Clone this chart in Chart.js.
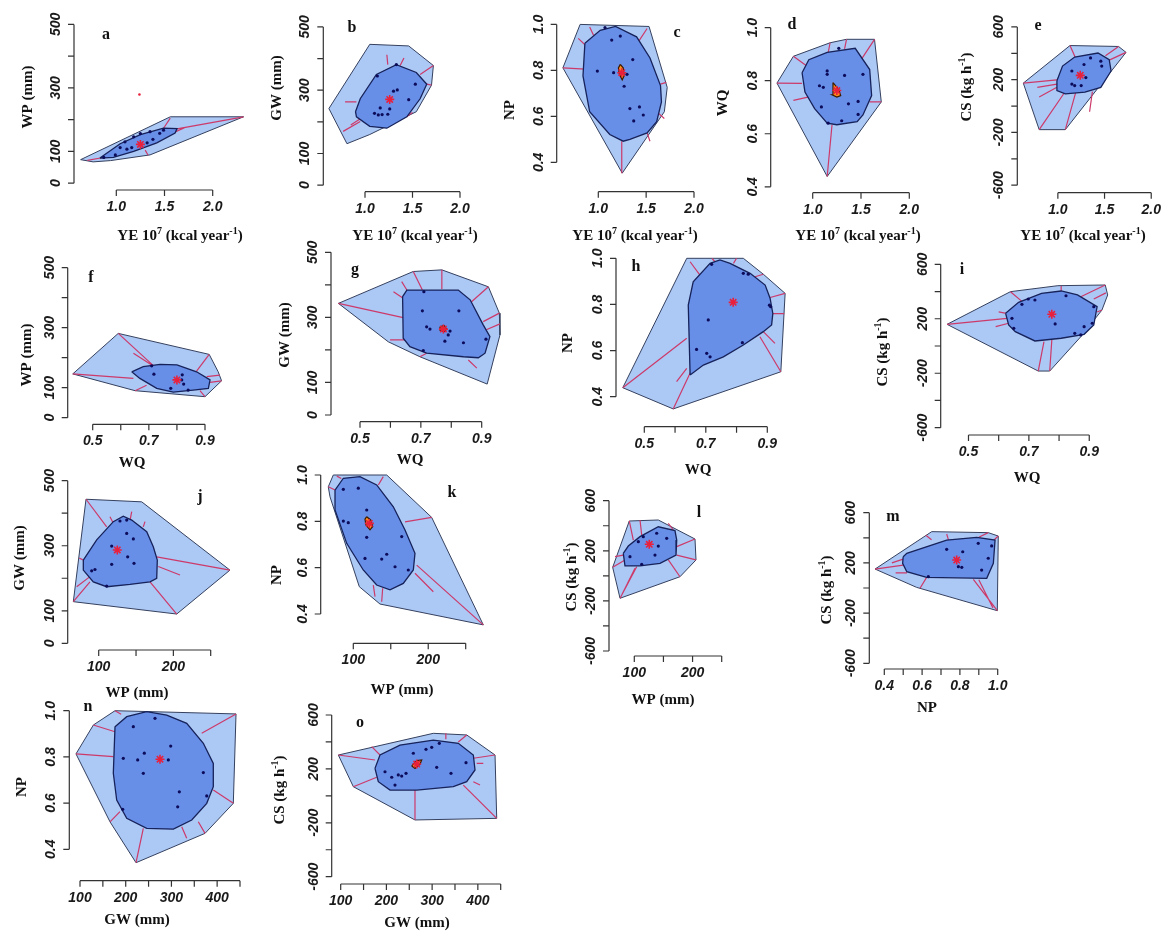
<!DOCTYPE html>
<html>
<head>
<meta charset="utf-8">
<script src="https://cdn.jsdelivr.net/npm/chart.js@4.4.1/dist/chart.umd.min.js"></script>
<style>
  body { margin: 0; background: #fff; width: 1169px; height: 937px; position: relative; overflow: hidden; }
  canvas { position: absolute; left: 0; top: 0; }
</style>
</head>
<body>
<script>
// ---- tick values / labels ----
const ticksYE = [1.0, 1.5, 2.0];
const labelsYE = ['1.0', '1.5', '2.0'];
const ticksWQx = [0.5, 0.6, 0.7, 0.8, 0.9];
const labelsWQx = ['0.5', '', '0.7', '', '0.9'];
const ticksWPx = [100, 150, 200, 250];
const labelsWPx = ['100', '', '200', ''];
const ticksNPx = [0.4, 0.5, 0.6, 0.7, 0.8, 0.9, 1.0];
const labelsNPx = ['0.4', '', '0.6', '', '0.8', '', '1.0'];
const ticksGWx = [100, 150, 200, 250, 300, 350, 400, 450];
const labelsGWx = ['100', '', '200', '', '300', '', '400', ''];
const ticksMMy = [0, 100, 200, 300, 400, 500];
const labelsMMy = ['0', '100', '', '300', '', '500'];
const ticksFracY = [0.4, 0.6, 0.8, 1.0];
const labelsFracY = ['0.4', '0.6', '0.8', '1.0'];
const ticksCSy = [-600, -400, -200, 0, 200, 400, 600];
const labelsCSy = ['-600', '', '-200', '', '200', '', '600'];

// ---- a: YE vs WP ----
const aLoop = [[0.63,74],[1.56,209],[2.32,209],[1.35,89],[0.94,71],[0.76,67]];
const aBag = [[0.83,79],[1.04,124],[1.25,153],[1.49,173],[1.63,172],[1.61,158],[1.42,127],[1.18,100],[0.97,81]];
const aPts = [[0.87,81],[0.99,89],[1.11,107],[1.16,112],[1.09,130],[1.18,146],[1.25,156],[1.35,162],[1.45,157],[1.49,167],[1.38,138],[1.32,127],[1.04,112]];
const aWhisk = [[1.63,171,2.32,209],[1.49,173,1.56,205],[1.30,104,1.33,88],[0.85,80,0.70,72],[1.60,160,1.72,176]];
const aMed = [1.25,122];
const aOut = [[1.24,279]];

// ---- b: YE vs GW ----
const bLoop = [[0.62,242],[1.05,445],[1.46,440],[1.72,378],[1.70,316],[1.54,232],[1.05,160],[0.81,131]];
const bBag = [[0.90,232],[0.95,273],[1.12,350],[1.33,381],[1.54,356],[1.65,319],[1.58,273],[1.44,216],[1.23,180],[1.05,186],[0.91,216]];
const bPts = [[1.13,345],[1.30,297],[1.34,301],[1.53,319],[1.46,270],[1.26,241],[1.16,244],[1.10,227],[1.14,222],[1.18,223],[1.24,224],[1.33,381]];
const bWhisk = [[1.23,412,1.24,381],[1.41,402,1.37,378],[1.72,378,1.58,350],[1.70,316,1.65,319],[1.50,230,1.44,216],[0.77,170,0.95,201],[0.79,263,0.91,263],[0.85,190,0.98,215]];
const bMed = [1.26,271];

// ---- c: YE vs NP ----
const cLoop = [[0.63,0.811],[0.81,1.0],[1.53,0.991],[1.72,0.726],[1.69,0.62],[1.25,0.353]];
const cBag = [[0.86,0.918],[1.02,0.974],[1.18,0.991],[1.40,0.946],[1.54,0.854],[1.65,0.734],[1.66,0.663],[1.61,0.577],[1.51,0.528],[1.33,0.50],[1.26,0.492],[1.12,0.521],[0.91,0.62],[0.84,0.776]];
const cCore = [[1.23,0.826],[1.26,0.811],[1.27,0.776],[1.25,0.759],[1.22,0.783],[1.21,0.811]];
const cPts = [[0.99,0.797],[1.14,0.932],[1.23,0.949],[1.16,0.79],[1.30,0.783],[1.36,0.847],[1.27,0.731],[1.33,0.634],[1.43,0.641],[1.47,0.606],[1.37,0.58],[1.07,0.986]];
const cWhisk = [[0.63,0.811,0.91,0.804],[0.79,0.939,0.88,0.904],[0.91,0.989,0.95,0.953],[1.42,0.925,1.51,0.982],[1.65,0.74,1.71,0.748],[1.63,0.613,1.69,0.591],[1.245,0.492,1.245,0.353],[1.51,0.528,1.54,0.492]];
const cMed = [1.245,0.79];

// ---- d: YE vs WQ ----
const dLoop = [[0.63,0.791],[0.80,0.892],[1.18,0.943],[1.35,0.956],[1.64,0.956],[1.71,0.72],[1.15,0.439]];
const dBag = [[0.89,0.83],[0.96,0.879],[1.15,0.907],[1.44,0.922],[1.59,0.842],[1.61,0.744],[1.52,0.671],[1.46,0.646],[1.25,0.634],[1.15,0.64],[1.02,0.695],[0.92,0.757]];
const dCore = [[1.21,0.793],[1.27,0.767],[1.29,0.744],[1.25,0.738],[1.20,0.747],[1.21,0.771]];
const dPts = [[1.15,0.837],[1.15,0.824],[1.33,0.82],[1.07,0.781],[1.11,0.775],[1.52,0.824],[1.09,0.701],[1.37,0.713],[1.47,0.722],[1.47,0.673],[1.30,0.649],[1.16,0.64],[1.27,0.922]];
const dWhisk = [[0.63,0.791,0.89,0.79],[0.80,0.892,0.96,0.85],[0.80,0.726,1.02,0.744],[1.18,0.943,1.16,0.905],[1.35,0.956,1.33,0.92],[1.64,0.956,1.49,0.873],[1.71,0.72,1.59,0.72],[1.15,0.439,1.20,0.634]];
const dMed = [1.25,0.763];

// ---- e: YE vs CS ----
const eLoop = [[0.63,174],[1.13,459],[1.65,452],[1.73,407],[1.08,-179],[0.80,-179]];
const eBag = [[0.99,192],[1.05,303],[1.18,372],[1.43,402],[1.55,352],[1.57,266],[1.46,142],[1.29,105],[1.08,92],[0.99,118]];
const ePts = [[1.15,266],[1.28,315],[1.35,365],[1.46,340],[1.47,303],[1.30,216],[1.15,167],[1.18,155],[1.25,155]];
const eWhisk = [[0.63,174,0.99,199],[0.78,142,0.99,167],[0.80,68,0.99,142],[0.80,-179,1.07,101],[1.08,-179,1.19,100],[1.34,-43,1.37,110],[1.73,407,1.55,348],[1.65,452,1.51,382],[1.13,459,1.20,348]];
const eMed = [1.24,233];

// ---- f: WQ vs WP ----
const fLoop = [[0.429,146],[0.591,281],[0.915,211],[0.947,153],[0.959,123],[0.90,70],[0.651,90]];
const fBag = [[0.639,153],[0.68,170],[0.74,178],[0.80,176],[0.87,153],[0.918,126],[0.912,98],[0.858,92],[0.787,85],[0.728,98],[0.668,131]];
const fPts = [[0.71,173],[0.718,145],[0.819,143],[0.817,126],[0.824,112],[0.778,98],[0.84,92]];
const fWhisk = [[0.429,146,0.645,131],[0.591,281,0.718,172],[0.645,215,0.71,176],[0.915,211,0.87,155],[0.953,142,0.906,137],[0.959,123,0.918,118],[0.90,70,0.882,90],[0.651,90,0.692,108]];
const fMed = [0.80,126];

// ---- g: WQ vs GW ----
const gLoop = [[0.429,343],[0.675,441],[0.769,446],[0.922,394],[0.958,313],[0.96,246],[0.918,95],[0.697,179],[0.593,225]];
const gBag = [[0.64,364],[0.654,384],[0.823,384],[0.862,354],[0.905,277],[0.927,241],[0.911,190],[0.889,176],[0.84,179],[0.719,190],[0.664,210],[0.642,236]];
const gCore = [[0.763,271],[0.776,275],[0.785,264],[0.776,256],[0.765,261]];
const gPts = [[0.71,379],[0.705,320],[0.719,271],[0.73,264],[0.796,258],[0.79,246],[0.779,227],[0.84,222],[0.825,320],[0.708,198],[0.914,233]];
const gWhisk = [[0.429,343,0.642,299],[0.61,379,0.642,359],[0.637,410,0.654,384],[0.675,441,0.705,384],[0.769,446,0.769,387],[0.922,394,0.862,344],[0.958,313,0.905,287],[0.96,280,0.915,262],[0.884,144,0.856,169],[0.599,231,0.648,231],[0.697,179,0.719,190]];
const gMed = [0.774,264];

// ---- h: WQ vs NP ----
const hLoop = [[0.43,0.439],[0.638,1.0],[0.822,1.0],[0.887,0.931],[0.958,0.848],[0.944,0.508],[0.594,0.347]];
const hBag = [[0.649,0.494],[0.643,0.797],[0.659,0.898],[0.714,0.978],[0.746,0.993],[0.779,0.978],[0.844,0.935],[0.893,0.884],[0.909,0.827],[0.918,0.761],[0.914,0.711],[0.887,0.682],[0.822,0.624],[0.757,0.573],[0.692,0.537]];
const hPts = [[0.719,0.974],[0.822,0.935],[0.838,0.931],[0.907,0.797],[0.911,0.79],[0.708,0.733],[0.67,0.605],[0.703,0.588],[0.714,0.573],[0.819,0.634]];
const hWhisk = [[0.43,0.439,0.638,0.653],[0.594,0.347,0.651,0.508],[0.605,0.465,0.638,0.523],[0.649,0.985,0.681,0.927],[0.72,1.0,0.73,0.985],[0.80,1.0,0.79,0.978],[0.887,0.931,0.86,0.92],[0.958,0.848,0.909,0.83],[0.955,0.76,0.918,0.76],[0.944,0.508,0.876,0.66],[0.887,0.682,0.925,0.631]];
const hMed = [0.789,0.809];

// ---- i: WQ vs CS ----
const iLoop = [[0.429,159],[0.639,399],[0.796,443],[0.953,448],[0.961,375],[0.942,264],[0.872,68],[0.769,-184],[0.731,-184]];
const iBag = [[0.623,240],[0.666,321],[0.742,387],[0.807,404],[0.861,375],[0.926,289],[0.915,154],[0.883,86],[0.807,57],[0.72,37],[0.655,105],[0.633,154]];
const iPts = [[0.644,203],[0.677,306],[0.698,345],[0.72,338],[0.787,162],[0.823,369],[0.852,93],[0.872,81],[0.883,142],[0.91,167],[0.915,289],[0.65,130]];
const iWhisk = [[0.429,159,0.628,203],[0.59,142,0.633,167],[0.60,250,0.625,240],[0.639,399,0.677,328],[0.807,440,0.807,404],[0.953,448,0.872,362],[0.955,390,0.915,345],[0.942,264,0.926,250],[0.769,-184,0.776,44],[0.731,-184,0.75,32]];
const iMed = [0.776,233];

// ---- j: WP vs GW ----
const jLoop = [[83,443],[157.6,435],[275.8,225],[204.5,90],[66,128]];
const jBag = [[79.4,256],[97.3,318],[119.6,374],[132.9,391],[144.2,379],[164.3,343],[173.1,297],[178.5,256],[177.7,200],[168.7,189],[141.9,181],[110.7,174],[92.8,189],[79.4,225]];
const jPts = [[117.4,299],[137.5,338],[146.4,321],[138.8,266],[147.3,246],[117.4,243],[95,227],[90.6,223],[110.7,176],[128.5,376],[137.5,379]];
const jWhisk = [[83,443,110.7,358],[115.1,389,119.6,369],[144.2,405,142,379],[162,374,159.7,358],[275.8,225,177.7,266],[208.9,210,179.8,236],[204.5,90,168.7,189],[70.5,174,88.3,205],[66,128,88.3,189],[74,262,79.4,256]];
const jMed = [124.9,287];

// ---- k: WP vs NP ----
const kLoop = [[73.3,1.0],[144.6,1.0],[204.6,0.817],[273.5,0.353],[135.6,0.443],[108,0.518],[68.9,0.906],[66.6,0.949]];
const kBag = [[75.6,0.935],[86.7,0.986],[108.9,0.993],[131.2,0.957],[153.4,0.863],[169,0.763],[182.3,0.662],[180.1,0.59],[166.7,0.532],[149,0.504],[131.2,0.525],[113.3,0.59],[91.2,0.705],[75.6,0.849]];
const kCore = [[117.9,0.82],[123.2,0.806],[125.9,0.777],[122.3,0.763],[116.9,0.784],[115.6,0.809]];
const kPts = [[86.7,0.938],[106.7,0.943],[86.7,0.801],[93.3,0.794],[117.9,0.849],[117.9,0.731],[115.6,0.64],[137.9,0.637],[144.6,0.658],[155.7,0.604],[164.6,0.734],[173.4,0.59]];
const kWhisk = [[204.6,0.817,169,0.798],[273.5,0.353,184.6,0.611],[206.8,0.496,182.3,0.576],[129,0.475,126.7,0.525],[137.9,0.453,139.2,0.511],[140,0.993,133.4,0.957],[78,0.995,84,0.985],[66.6,0.949,75.6,0.935]];
const kMed = [121.4,0.791];

// ---- l: WP vs CS ----
const lLoop = [[91.4,438],[141.2,446],[204.2,294],[205.9,127],[178.4,-7],[75.5,-179],[62.9,68]];
const lBag = [[81.1,180],[89.7,238],[109.8,313],[141.2,392],[169.8,361],[172.8,286],[171.6,166],[144.1,100],[109.8,79],[84,79]];
const lPts = [[106.9,273],[115.4,313],[138.4,340],[155.6,300],[141.2,238],[135.5,166],[92.6,153],[112.7,92]];
const lWhisk = [[75.5,-179,104.1,73],[78.4,-153,101.2,60],[62.9,68,84,127],[66.9,153,81.1,166],[91.4,438,98.3,286],[109.8,446,112.7,326],[158.3,419,167,366],[204.2,294,172.8,233],[205.9,127,172.8,166],[178.4,-7,158.4,127]];
const lMed = [125.7,252];

// ---- m: NP vs CS ----
const mLoop = [[0.351,151],[0.651,449],[0.95,441],[1.003,414],[0.998,-181],[0.571,5]];
const mBag = [[0.50,249],[0.519,276],[0.73,382],[0.889,404],[0.986,382],[0.977,197],[0.942,77],[0.624,85],[0.519,130],[0.497,197]];
const mPts = [[0.73,308],[0.815,289],[0.792,170],[0.81,165],[0.897,356],[0.968,335],[0.95,237],[0.915,143],[0.633,90]];
const mWhisk = [[0.351,151,0.50,183],[0.44,200,0.50,230],[0.46,120,0.52,120],[0.62,420,0.65,385],[0.73,430,0.74,382],[0.95,441,0.90,404],[1.003,414,0.98,382],[0.998,-181,0.871,69],[0.975,-160,0.90,65],[0.589,-2,0.624,85]];
const mMed = [0.783,223];

// ---- n: GW vs NP ----
const nLoop = [[91.2,0.813],[129.2,0.938],[176.6,1.0],[441.3,0.986],[435.4,0.599],[373.5,0.469],[222.5,0.342],[165.6,0.519]];
const nBag = [[176.6,0.931],[202.2,0.974],[245.9,0.996],[289.7,0.981],[333.4,0.945],[369.8,0.859],[391.6,0.772],[391.6,0.671],[377.2,0.599],[344.4,0.527],[304.2,0.487],[245.9,0.491],[202.2,0.534],[180.3,0.613],[172.9,0.729]];
const nPts = [[264.1,0.967],[216.6,0.931],[194.7,0.794],[226.2,0.787],[240.7,0.816],[293.2,0.787],[298.4,0.847],[238.5,0.729],[317.3,0.649],[313.7,0.584],[369.8,0.732],[377.2,0.631],[193.4,0.573]];
const nWhisk = [[91.2,0.813,172.9,0.801],[129.2,0.938,176.6,0.909],[176.6,1.0,190,0.985],[441.3,0.986,366.2,0.902],[435.4,0.599,391.6,0.657],[373.5,0.469,358.8,0.519],[333.4,0.448,322.5,0.498],[222.5,0.342,238.5,0.491],[165.6,0.519,187.5,0.563]];
const nMed = [275,0.79];

// ---- o: GW vs CS ----
const oLoop = [[94.8,303],[302.6,464],[375.6,452],[437.6,303],[441.3,-167],[262.5,-179],[127.6,68]];
const oBag = [[175,204],[186,303],[229.7,377],[302.6,414],[357.3,390],[390.1,303],[393.8,192],[375.6,105],[346.3,68],[266.3,43],[207.9,43],[182.3,105]];
const oCore = [[255.3,222],[266.3,261],[277.2,266],[273.5,236],[262.6,204]];
const oPts = [[196.9,179],[211.6,138],[226,155],[233.4,147],[242.9,167],[258.9,316],[286.6,345],[310,212],[299.1,360],[315.7,390],[374.1,246],[341.3,167],[218.8,80]];
const oWhisk = [[94.8,303,175,266],[127.6,68,178.8,138],[262.5,-179,262.5,43],[441.3,-167,368.2,80],[437.6,303,390.1,279],[375.6,452,357.3,400],[330,464,330,420],[167.8,365,186,303],[397.5,241,411.9,241],[390.1,105,404.7,80]];
const oMed = [266.3,236];

// axis titles
const tYE = [['YE 10', 0], ['7', 1], [' (kcal year', 0], ['-1', 1], [')', 0]];
const tCS = [['CS (kg h', 0], ['-1', 1], [')', 0]];
const tWP = [['WP (mm)', 0]], tGW = [['GW (mm)', 0]], tNP = [['NP', 0]], tWQ = [['WQ', 0]];

// panel layout (page pixels): y-axis line L, x-axis line B, two x refs and two y refs
const panels = [
  { key:'a', loop:aLoop, bag:aBag, pts:aPts, whisk:aWhisk, med:aMed, out:aOut, xt:ticksYE, xl:labelsYE, yt:ticksMMy, yl:labelsMMy, xTitle:tYE, yTitle:tWP,
    g:{L:74, B:190, xr:[1,116.3,2,212.7], yr:[0,183,500,20.7], letter:[106,35], ytp:[28,97], xtp:[180,236]} },
  { key:'b', loop:bLoop, bag:bBag, pts:bPts, whisk:bWhisk, med:bMed, xt:ticksYE, xl:labelsYE, yt:ticksMMy, yl:labelsMMy, xTitle:tYE, yTitle:tGW,
    g:{L:323.3, B:191.7, xr:[1,365,2,460], yr:[0,185,500,23.3], letter:[352,28], ytp:[277,88], xtp:[415,236]} },
  { key:'c', loop:cLoop, bag:cBag, pts:cPts, whisk:cWhisk, med:cMed, core:cCore, xt:ticksYE, xl:labelsYE, yt:ticksFracY, yl:labelsFracY, xTitle:tYE, yTitle:tNP,
    g:{L:556.7, B:191.7, xr:[1,598.3,2,694], yr:[0.4,161.7,1.0,20.7], letter:[677,33], ytp:[510,110], xtp:[635,236]} },
  { key:'d', loop:dLoop, bag:dBag, pts:dPts, whisk:dWhisk, med:dMed, core:dCore, xt:ticksYE, xl:labelsYE, yt:ticksFracY, yl:labelsFracY, xTitle:tYE, yTitle:tWQ,
    g:{L:770.7, B:192.7, xr:[1,812.7,2,909.3], yr:[0.4,186.7,1.0,24], letter:[792,25], ytp:[723,103], xtp:[858,236]} },
  { key:'e', loop:eLoop, bag:eBag, pts:ePts, whisk:eWhisk, med:eMed, xt:ticksYE, xl:labelsYE, yt:ticksCSy, yl:labelsCSy, xTitle:tYE, yTitle:tCS,
    g:{L:1017.3, B:192.7, xr:[1,1059,2,1155], yr:[-600,185,600,23.3], letter:[1038,26], ytp:[967,87], xtp:[1083,236]} },
  { key:'f', loop:fLoop, bag:fBag, pts:fPts, whisk:fWhisk, med:fMed, xt:ticksWQx, xl:labelsWQx, yt:ticksMMy, yl:labelsMMy, xTitle:tWQ, yTitle:tWP,
    g:{L:67.7, B:424.3, xr:[0.5,92.7,0.9,205], yr:[0,417.7,500,267.7], letter:[91,278], ytp:[27,355], xtp:[132,463]} },
  { key:'g', loop:gLoop, bag:gBag, pts:gPts, whisk:gWhisk, med:gMed, core:gCore, xt:ticksWQx, xl:labelsWQx, yt:ticksMMy, yl:labelsMMy, xTitle:tWQ, yTitle:tGW,
    g:{L:331, B:421.7, xr:[0.5,360,0.9,481.7], yr:[0,415,500,252.3], letter:[355,270], ytp:[285,335], xtp:[410,460]} },
  { key:'h', loop:hLoop, bag:hBag, pts:hPts, whisk:hWhisk, med:hMed, xt:ticksWQx, xl:labelsWQx, yt:ticksFracY, yl:labelsFracY, xTitle:tWQ, yTitle:tNP,
    g:{L:616, B:426.7, xr:[0.5,644.3,0.9,767.3], yr:[0.4,396.7,1.0,258.3], letter:[636,267], ytp:[568,343], xtp:[698,470]} },
  { key:'i', loop:iLoop, bag:iBag, pts:iPts, whisk:iWhisk, med:iMed, xt:ticksWQx, xl:labelsWQx, yt:ticksCSy, yl:labelsCSy, xTitle:tWQ, yTitle:tCS,
    g:{L:940.7, B:435, xr:[0.5,969,0.9,1092], yr:[-600,427.7,600,264.3], letter:[962,270], ytp:[883,352], xtp:[1027,478]} },
  { key:'j', loop:jLoop, bag:jBag, pts:jPts, whisk:jWhisk, med:jMed, xt:ticksWPx, xl:labelsWPx, yt:ticksMMy, yl:labelsMMy, xTitle:tWP, yTitle:tGW,
    g:{L:67.7, B:650, xr:[100,98.7,250,210.7], yr:[0,643.3,500,480.7], letter:[200,497], ytp:[20,558], xtp:[137,693]} },
  { key:'k', loop:kLoop, bag:kBag, pts:kPts, whisk:kWhisk, med:kMed, core:kCore, xt:ticksWPx, xl:labelsWPx, yt:ticksFracY, yl:labelsFracY, xTitle:tWP, yTitle:tNP,
    g:{L:320.7, B:643.3, xr:[100,353.3,250,465.7], yr:[0.4,614,1.0,475], letter:[452,493], ytp:[277,575], xtp:[402,690]} },
  { key:'l', loop:lLoop, bag:lBag, pts:lPts, whisk:lWhisk, med:lMed, xt:ticksWPx, xl:labelsWPx, yt:ticksCSy, yl:labelsCSy, xTitle:tWP, yTitle:tCS,
    g:{L:609, B:656, xr:[100,634.3,250,721.7], yr:[-600,651,600,500.7], letter:[699,513], ytp:[572,577], xtp:[663,700]} },
  { key:'m', loop:mLoop, bag:mBag, pts:mPts, whisk:mWhisk, med:mMed, xt:ticksNPx, xl:labelsNPx, yt:ticksCSy, yl:labelsCSy, xTitle:tNP, yTitle:tCS,
    g:{L:869.3, B:669, xr:[0.4,884.3,1.0,997.7], yr:[-600,663.3,600,512.7], letter:[893,517], ytp:[827,590], xtp:[927,708]} },
  { key:'n', loop:nLoop, bag:nBag, pts:nPts, whisk:nWhisk, med:nMed, xt:ticksGWx, xl:labelsGWx, yt:ticksFracY, yl:labelsFracY, xTitle:tGW, yTitle:tNP,
    g:{L:69.3, B:880.7, xr:[100,80,450,240], yr:[0.4,849.3,1.0,710.7], letter:[88,707], ytp:[22,787], xtp:[137,920]} },
  { key:'o', loop:oLoop, bag:oBag, pts:oPts, whisk:oWhisk, med:oMed, core:oCore, xt:ticksGWx, xl:labelsGWx, yt:ticksCSy, yl:labelsCSy, xTitle:tGW, yTitle:tCS,
    g:{L:331.7, B:884, xr:[100,340.7,450,500.7], yr:[-600,876.7,600,715], letter:[360,723], ytp:[280,790], xtp:[417,923]} }
];

const W = 1169, H = 937;
const LOOP_FILL = 'rgb(172,200,245)', LOOP_EDGE = '#34405e';
const BAG_FILL = 'rgb(104,143,232)', BAG_EDGE = '#16225a';
const WHISK = '#cc3a6a', DOT = '#0c0c5a', STAR = '#e8203c';

function poly(arr) {
  const d = arr.map(([x, y]) => ({x, y}));
  d.push({x: arr[0][0], y: arr[0][1]});
  return d;
}
function segs(arr) {
  const d = [];
  arr.forEach(([x1, y1, x2, y2]) => d.push({x: x1, y: y1}, {x: x2, y: y2}, {x: null, y: null}));
  return d;
}
const pts = arr => arr.map(([x, y]) => ({x, y}));

// value <-> pixel helpers from two reference ticks
const toVal = (r, p) => r[0] + (p - r[1]) * (r[2] - r[0]) / (r[3] - r[1]);
const toPix = (r, v) => r[1] + (v - r[0]) * (r[3] - r[1]) / (r[2] - r[0]);

function drawRich(ctx, parts, cx, cy, rot) {
  const big = 'bold 15px "Liberation Serif", "Times New Roman", serif';
  const small = 'bold 10px "Liberation Serif", "Times New Roman", serif';
  let w = 0;
  parts.forEach(([t, s]) => { ctx.font = s ? small : big; w += ctx.measureText(t).width; });
  ctx.save();
  ctx.translate(cx, cy);
  if (rot) ctx.rotate(-Math.PI / 2);
  ctx.textAlign = 'left';
  ctx.textBaseline = 'middle';
  let x = -w / 2;
  parts.forEach(([t, s]) => {
    ctx.font = s ? small : big;
    ctx.fillText(t, x, s ? -5 : 0);
    x += ctx.measureText(t).width;
  });
  ctx.restore();
}

// R-style detached axes, tick labels, titles and panel letter
function rAxes(p) {
  return {
    id: 'rAxes_' + p.key,
    afterDraw(chart) {
      const ctx = chart.ctx, xs = chart.scales.x, ys = chart.scales.y;
      const L = chart.chartArea.left, B = chart.chartArea.bottom;
      ctx.save();
      ctx.strokeStyle = '#333';
      ctx.lineWidth = 1.2;
      ctx.beginPath();
      const yt = p.yt, xt = p.xt;
      ctx.moveTo(L, ys.getPixelForValue(yt[0]));
      ctx.lineTo(L, ys.getPixelForValue(yt[yt.length - 1]));
      yt.forEach(v => { const y = ys.getPixelForValue(v); ctx.moveTo(L, y); ctx.lineTo(L - 6, y); });
      ctx.moveTo(xs.getPixelForValue(xt[0]), B);
      ctx.lineTo(xs.getPixelForValue(xt[xt.length - 1]), B);
      xt.forEach(v => { const x = xs.getPixelForValue(v); ctx.moveTo(x, B); ctx.lineTo(x, B + 6); });
      ctx.stroke();

      ctx.fillStyle = '#1a1a1a';
      ctx.font = 'bold italic 14px "Liberation Sans", Arial, sans-serif';
      ctx.textAlign = 'center';
      ctx.textBaseline = 'middle';
      xt.forEach((v, i) => { if (p.xl[i]) ctx.fillText(p.xl[i], xs.getPixelForValue(v), B + 17); });
      yt.forEach((v, i) => {
        if (!p.yl[i]) return;
        ctx.save();
        ctx.translate(L - 18, ys.getPixelForValue(v));
        ctx.rotate(-Math.PI / 2);
        ctx.fillText(p.yl[i], 0, 0);
        ctx.restore();
      });

      ctx.fillStyle = '#111';
      drawRich(ctx, p.xTitle, p.g.xtp[0], p.g.xtp[1], false);
      drawRich(ctx, p.yTitle, p.g.ytp[0], p.g.ytp[1], true);
      ctx.font = 'bold 16px "Liberation Serif", "Times New Roman", serif';
      ctx.fillText(p.key, p.g.letter[0], p.g.letter[1]);
      ctx.restore();
    }
  };
}

panels.forEach(p => {
  const c = document.createElement('canvas');
  c.width = W; c.height = H;
  document.body.appendChild(c);

  const g = p.g;
  // plot region reaches past the last ticks so the filled loops are never clipped
  const R = Math.min(W - 2, toPix(g.xr, p.xt[p.xt.length - 1]) + 90);
  const T = Math.max(2, toPix(g.yr, p.yt[p.yt.length - 1]) - 40);

  const datasets = [
    { data: poly(p.loop), showLine: true, fill: 'shape', backgroundColor: LOOP_FILL, borderColor: LOOP_EDGE, borderWidth: 1, pointRadius: 0, order: 6 },
    { data: segs(p.whisk), showLine: true, spanGaps: false, fill: false, borderColor: WHISK, borderWidth: 1.2, pointRadius: 0, order: 5 },
    { data: poly(p.bag), showLine: true, fill: 'shape', backgroundColor: BAG_FILL, borderColor: BAG_EDGE, borderWidth: 1.3, pointRadius: 0, order: 4 },
    { data: pts(p.pts), pointRadius: 1.6, pointBorderWidth: 0, pointBackgroundColor: DOT, pointBorderColor: DOT, order: 3 }
  ];
  if (p.core) datasets.push({ data: poly(p.core), showLine: true, fill: 'shape', backgroundColor: '#ff8c1a', borderColor: '#3a1a00', borderWidth: 1.2, pointRadius: 0, order: 2 });
  datasets.push({ data: pts([p.med]), pointStyle: 'star', pointRadius: 4.5, pointBorderWidth: 1.6, pointBorderColor: STAR, pointBackgroundColor: STAR, order: 1 });
  if (p.out) datasets.push({ data: pts(p.out), pointRadius: 1.3, pointBorderWidth: 0, pointBackgroundColor: STAR, order: 1 });
  datasets.forEach(d => { d.clip = false; });

  new Chart(c, {
    type: 'scatter',
    data: { datasets },
    options: {
      responsive: false,
      animation: false,
      devicePixelRatio: 1,
      events: [],
      layout: { padding: { left: g.L, right: W - R, top: T, bottom: H - g.B } },
      elements: { line: { tension: 0 } },
      scales: {
        x: { type: 'linear', display: false, min: toVal(g.xr, g.L), max: toVal(g.xr, R) },
        y: { type: 'linear', display: false, min: toVal(g.yr, g.B), max: toVal(g.yr, T) }
      },
      plugins: { legend: { display: false }, tooltip: { enabled: false } }
    },
    plugins: [rAxes(p)]
  });
});
</script>
</body>
</html>
